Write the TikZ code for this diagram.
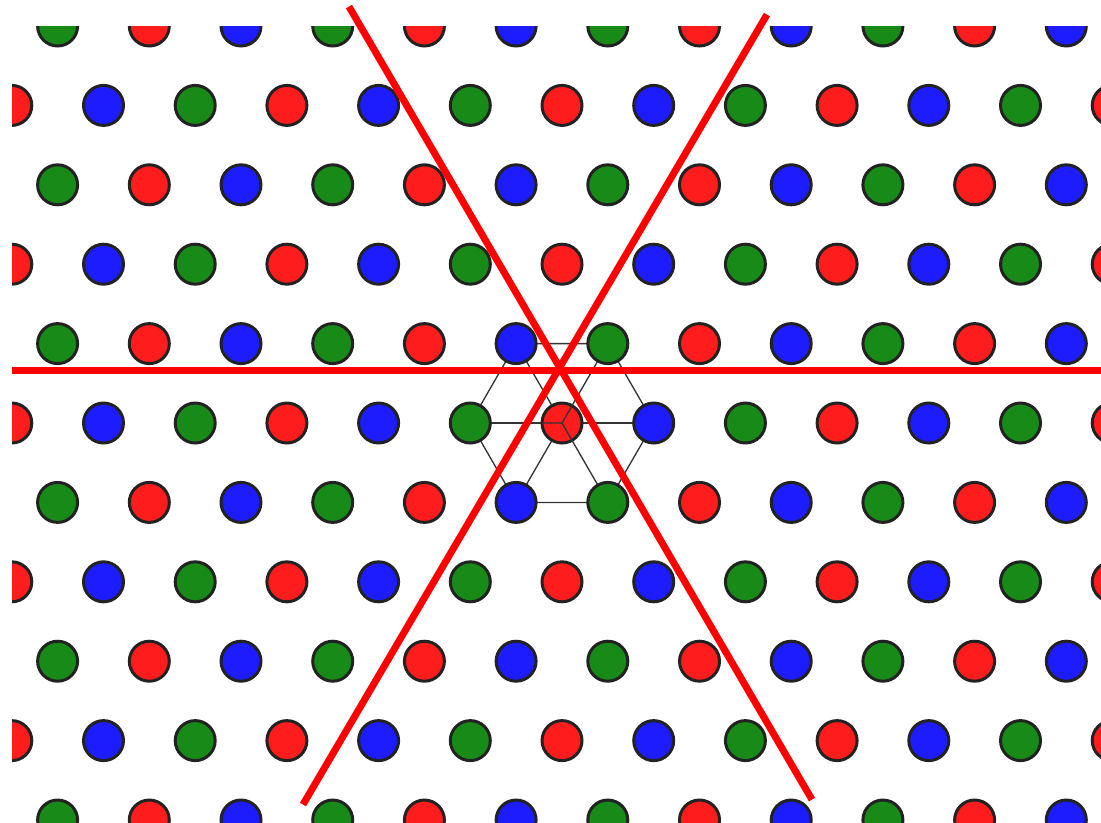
\documentclass[tikz,border=0pt]{standalone}
\usepackage{xcolor}
\usepackage{tikz}
\usetikzlibrary{calc,backgrounds}
\definecolor{dotred}{HTML}{FF1C1C}
\definecolor{dotgreen}{HTML}{178A17}
\definecolor{dotblue}{HTML}{1C1CFF}
\definecolor{dotrim}{HTML}{222222}
\tikzset{
    lat dot/.style={
        circle,
        draw=dotrim,
        line width=1.7pt,
        minimum size=0.8cm,
        inner sep=0pt
    },
    lat dot 0/.style={lat dot, fill=dotred},
    lat dot 1/.style={lat dot, fill=dotblue},
    lat dot 2/.style={lat dot, fill=dotgreen},
    hex line/.style={draw=black!80, line width=0.75pt},
    mirror line/.style={draw=red, line width=4pt}
}

\begin{document}
\begin{tikzpicture}[x=0.02cm, y=-0.02cm]
\useasboundingbox (0,0) rectangle (1101,822);

% lattice of dots
\begin{scope}
\clip (12,26) rectangle (1101,822);
\foreach \r in {0,...,10}{
    \pgfmathsetmacro{\ry}{26+\r*79.4}
    \ifodd\r
        \foreach \c in {0,...,12}{
            \pgfmathtruncatemacro{\col}{Mod(\c,3)}
            \node[lat dot \col] (d-\r-\c) at ({11.8+\c*91.7},\ry) {};
        }
    \else
        \foreach \c in {0,...,11}{
            \pgfmathtruncatemacro{\col}{Mod(\c+2,3)}
            \node[lat dot \col] (d-\r-\c) at ({57.6+\c*91.7},\ry) {};
        }
    \fi
}
\end{scope}

% hexagon round the centre dot
\begin{scope}[on background layer]
\draw[hex line] (d-4-5.center) -- (d-4-6.center) -- (d-5-7.center)
    -- (d-6-6.center) -- (d-6-5.center) -- (d-5-5.center) -- cycle;
\foreach \n in {d-4-5,d-4-6,d-5-7,d-6-6,d-6-5,d-5-5}
    \draw[hex line] (d-5-6.center) -- (\n.center);
\end{scope}
\draw[hex line] (d-5-6.west) -- (d-5-6.center) -- (d-5-6.60);
\draw[hex line] (d-5-6.center) -- (d-5-6.-60);

% mirror lines through the triangle centre
\coordinate (mid) at ($1/3*(d-4-5)+1/3*(d-4-6)+1/3*(d-5-6)$);
\coordinate (h-w) at ($(mid)+(-550,0)$);
\coordinate (h-e) at ($(mid)+(539,0)$);
\coordinate (a-n) at ($(mid)+(-213,-363.5)$);
\coordinate (a-s) at ($(mid)+(250,429.5)$);
\coordinate (b-n) at ($(mid)+(205,-355.5)$);
\coordinate (b-s) at ($(mid)+(-259,434.5)$);
\draw[mirror line] (h-w) -- (h-e);
\draw[mirror line] (a-n) -- (a-s);
\draw[mirror line] (b-n) -- (b-s);
\end{tikzpicture}
\end{document}
